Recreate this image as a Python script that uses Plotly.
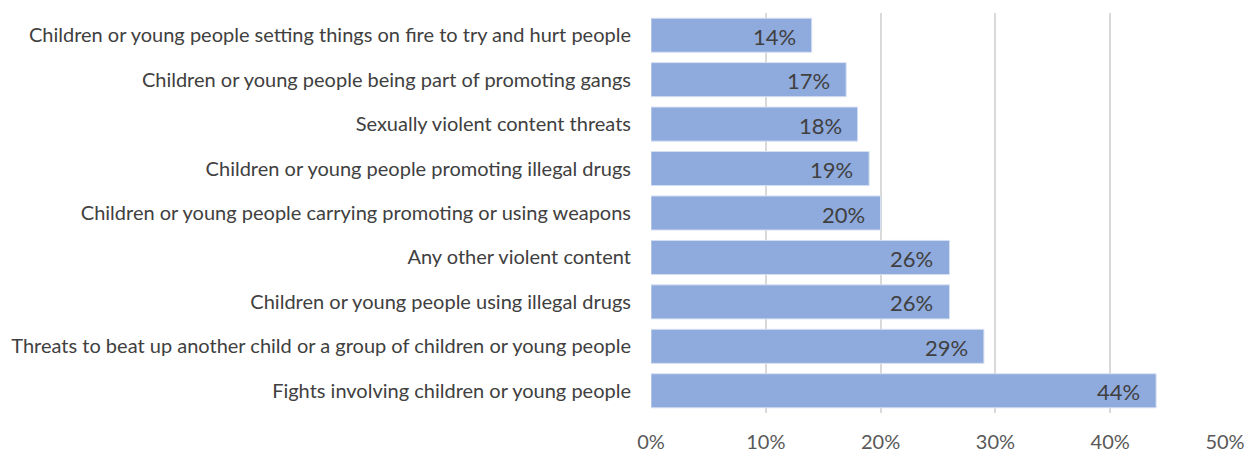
import plotly.graph_objects as go

categories = [
    "Fights involving children or young people",
    "Threats to beat up another child or a group of children or young people",
    "Children or young people using illegal drugs",
    "Any other violent content",
    "Children or young people carrying promoting or using weapons",
    "Children or young people promoting illegal drugs",
    "Sexually violent content threats",
    "Children or young people being part of promoting gangs",
    "Children or young people setting things on fire to try and hurt people",
]
values = [44, 29, 26, 26, 20, 19, 18, 17, 14]
tick_vals = [0, 10, 20, 30, 40, 50]
tick_text = ["0%", "10%", "20%", "30%", "40%", "50%"]

fig = go.Figure(go.Bar(
    y=categories,
    x=values,
    orientation="h",
    marker=dict(color="#8FAADC", line=dict(color="#D6E0F2", width=1)),
))

for c, v in zip(categories, values):
    fig.add_annotation(
        x=v, y=c, xref="x", yref="y", text=f"{v}%",
        showarrow=False, xanchor="right", xshift=-14, yshift=-1,
        font=dict(family="Lato", size=22, color="#404040"),
    )

fig.update_layout(
    width=1246, height=453,
    margin=dict(l=651, r=21, t=13, b=40),
    plot_bgcolor="white", paper_bgcolor="white",
    bargap=0.234,
    showlegend=False,
    font=dict(family="Lato", color="#404040"),
)
fig.update_xaxes(
    range=[0, 50], tickvals=tick_vals, ticktext=tick_text,
    showgrid=True, gridcolor="#D9D9D9", gridwidth=2,
    zeroline=False, showline=False, automargin=False,
    ticks="", tickfont=dict(family="Lato", size=20, color="#595959"),
    ticklabelstandoff=15,
)
fig.update_yaxes(
    showgrid=False, zeroline=False, showline=False, automargin=False,
    tickfont=dict(family="Lato", size=20, color="#404040"),
    ticks="outside", ticklen=15, tickcolor="rgba(0,0,0,0)",
)

fig.write_html(
    "out.html",
    config={"displayModeBar": False},
    post_script="document.body.style.margin='0';document.body.style.overflow='hidden';",
)
